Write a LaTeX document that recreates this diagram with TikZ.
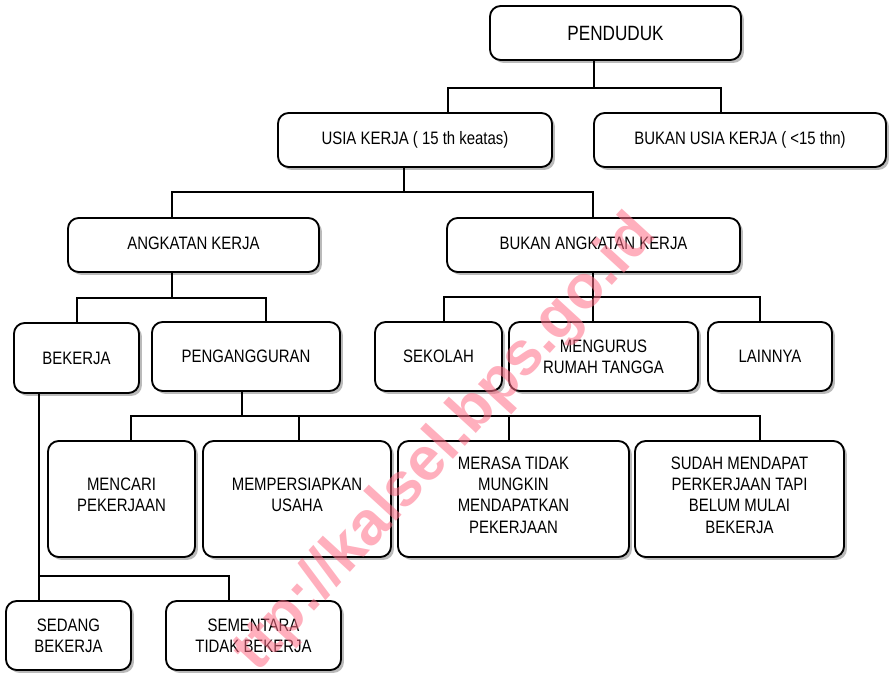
\documentclass[tikz,border=0pt]{standalone}
\usepackage{fontspec}
\setmainfont{Liberation Sans}[FakeStretch=0.83]
\newfontfamily\wmfont{Liberation Sans}[BoldFont={* Bold}]
\usetikzlibrary{shadows}
\definecolor{wmred}{RGB}{255,110,135}
% \bx[raise in px]{name}{x1}{y1}{x2}{y2}{text}
\newcommand{\bx}[7][0]{%
  \node[boxstyle, minimum width={(#5-#3)*0.75pt}, minimum height={(#6-#4)*0.75pt}]
    (#2) at ({(#3+#5)/2},{(#4+#6)/2}) {};
  \node[txtstyle] (#2t) at ([yshift={#1*0.75pt}]#2.center) {#7};}
\begin{document}
\begin{tikzpicture}[x=0.75pt,y=-0.75pt,
  boxstyle/.style={draw, line width=1.4pt, rounded corners=8pt, fill=white,
    inner sep=0pt,
    drop shadow={shadow xshift=2.2pt, shadow yshift=-2.2pt, fill=black!45, opacity=.6}},
  txtstyle/.style={align=center, inner sep=0pt, font=\fontsize{13.5}{16}\selectfont},
  conn/.style={line width=1.4pt},
  wmstyle/.style={text=wmred, opacity=.55, font=\wmfont\bfseries\fontsize{46}{50}\selectfont, inner sep=0pt}]
\useasboundingbox (0,0) rectangle (892,672);
\bx{pend}{490}{6}{741}{60}{\fontsize{15.5}{18}\selectfont PENDUDUK}
\bx{usia}{278}{113}{552}{167}{USIA KERJA ( 15 th keatas)}
\bx{busia}{594}{113}{886}{167}{BUKAN USIA KERJA ( <15 thn)}
\bx[2]{ak}{68}{218}{319}{272}{ANGKATAN KERJA}
\bx[2]{bak}{447}{218}{740}{272}{BUKAN ANGKATAN KERJA}
\bx{bek}{14}{323}{139}{393}{BEKERJA}
\bx{peng}{152}{322}{340}{391}{PENGANGGURAN}
\bx{sek}{375}{322}{502}{391}{SEKOLAH}
\bx{rt}{509}{322}{698}{391}{MENGURUS\\RUMAH TANGGA}
\bx{lain}{708}{322}{832}{391}{LAINNYA}
\bx[4]{cari}{48}{441}{195}{557}{MENCARI\\PEKERJAAN}
\bx[4]{usaha}{203}{441}{391}{557}{MEMPERSIAPKAN\\USAHA}
\bx[4]{merasa}{398}{441}{629}{557}{MERASA TIDAK\\MUNGKIN\\MENDAPATKAN\\PEKERJAAN}
\bx[4]{sudah}{635}{441}{844}{557}{SUDAH MENDAPAT\\PERKERJAAN TAPI\\BELUM MULAI\\BEKERJA}
\bx{sedang}{6}{601}{131}{670}{SEDANG\\BEKERJA}
\bx{sement}{166}{601}{341}{670}{SEMENTARA\\TIDAK BEKERJA}
% junctions
\coordinate (j1) at (594,88);
\coordinate (j2) at (404,192);
\coordinate (j3) at (172,298);
\coordinate (j4) at (593,297);
\coordinate (j5) at (242,416);
\coordinate (j6) at (39,576);
% connectors
\draw[conn] (pend.south -| j1) -- (j1);
\draw[conn] (448,0 |- usia.north) |- (721,88) -- (721,0 |- busia.north);
\draw[conn] (usia.south -| j2) -- (j2);
\draw[conn] (172,0 |- ak.north) |- (593,192) -- (593,0 |- bak.north);
\draw[conn] (ak.south -| j3) -- (j3);
\draw[conn] (77,0 |- bek.north) |- (266,298) -- (266,0 |- peng.north);
\draw[conn] (bak.south -| j4) -- (rt.north -| j4);
\draw[conn] (444,0 |- sek.north) |- (760,297) -- (760,0 |- lain.north);
\draw[conn] (peng.south -| j5) -- (j5);
\draw[conn] (131,0 |- cari.north) |- (760,416) -- (760,0 |- sudah.north);
\draw[conn] (299,416) -- (299,0 |- usaha.north);
\draw[conn] (509,416) -- (509,0 |- merasa.north);
\draw[conn] (bek.south -| j6) -- (sedang.north -| j6);
\draw[conn] (j6) -| (229,0 |- sement.north);
% watermark
\node[wmstyle, rotate=47.5] (wm) at (446,444) {ttp://kalsel.bps.go.id};
\end{tikzpicture}
\end{document}
